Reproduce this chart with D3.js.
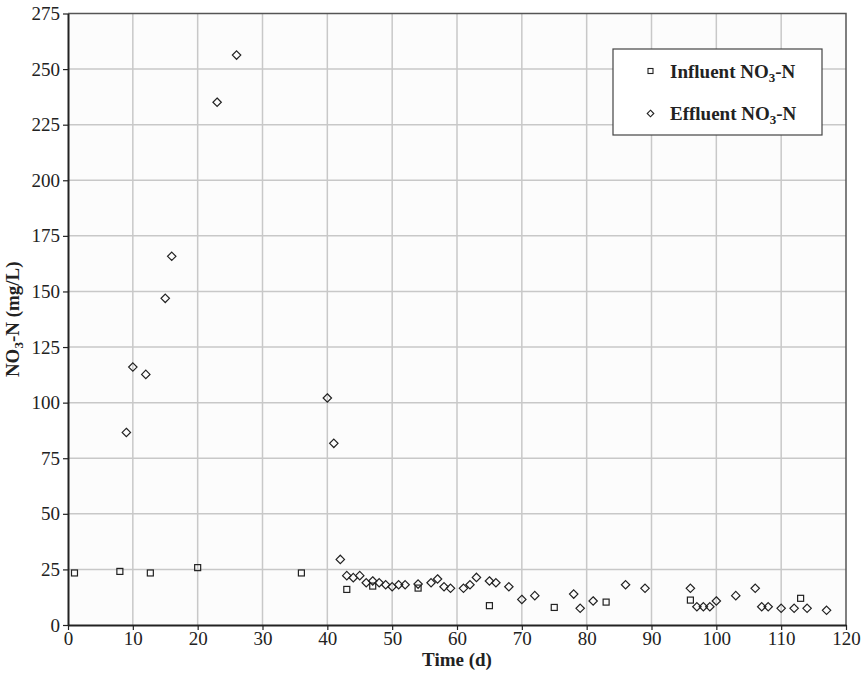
<!DOCTYPE html>
<html>
<head>
<meta charset="utf-8">
<script src="https://cdnjs.cloudflare.com/ajax/libs/d3/7.8.5/d3.min.js"></script>
<style>
  body { margin: 0; background: #fff; }
</style>
</head>
<body>
<svg width="865" height="673"></svg>
<script>
// days and NO3-N values
const influentDay = [1, 8, 12.7, 20, 36, 43, 47, 54, 65, 75, 83, 96, 113];
const influentNO3 = [23.4, 24.1, 23.4, 25.8, 23.4, 16.0, 17.5, 16.6, 8.7, 7.9, 10.3, 11.2, 12.0];

const effluentDay = [9, 10, 12, 15, 16, 23, 26, 40, 41, 42, 43, 44, 45, 46, 47, 48, 49, 50, 51, 52,
  54, 56, 57, 58, 59, 61, 62, 63, 65, 66, 68, 70, 72, 78, 79, 81, 86, 89, 96, 97, 98, 99, 100,
  103, 106, 107, 108, 110, 112, 114, 117];
const effluentNO3 = [86.6, 116.0, 112.7, 146.9, 165.8, 235.1, 256.3, 102.1, 81.7, 29.5, 22.2, 21.3, 22.2, 19.0, 19.8, 19.0, 18.1, 17.2, 18.1, 18.1,
  18.4, 19.0, 20.7, 17.2, 16.5, 16.5, 18.1, 21.4, 19.8, 19.0, 17.2, 11.5, 13.2, 13.9, 7.5, 10.8, 18.1, 16.5, 16.5, 8.2, 8.2, 8.2, 10.8,
  13.2, 16.5, 8.2, 8.2, 7.5, 7.5, 7.5, 6.6];

const xTicks = d3.range(0, 121, 10);
const yTicks = d3.range(0, 276, 25);

const font = "Liberation Serif";
const ink = "#222";
const fs = 19, subFs = 13;

const svg = d3.select("svg"),
    margin = {top: 13.5, right: 19, bottom: 48, left: 68},
    width = +svg.attr("width") - margin.left - margin.right,
    height = +svg.attr("height") - margin.top - margin.bottom,
    g = svg.append("g").attr("transform", "translate(" + margin.left + "," + margin.top + ")");

const x = d3.scaleLinear().domain([0, 120]).range([0, width]);
const y = d3.scaleLinear().domain([0, 275]).range([height, 0]);

g.append("rect")
    .attr("width", width).attr("height", height)
    .attr("fill", "#fcfcfc");

// grid
g.append("g").selectAll("line").data(xTicks.slice(1, -1)).join("line")
    .attr("x1", d => x(d)).attr("x2", d => x(d))
    .attr("y1", 0).attr("y2", height)
    .attr("stroke", "#c8c8c8").attr("stroke-width", 1.5);
g.append("g").selectAll("line").data(yTicks.slice(1, -1)).join("line")
    .attr("y1", d => y(d)).attr("y2", d => y(d))
    .attr("x1", 0).attr("x2", width)
    .attr("stroke", "#c8c8c8").attr("stroke-width", 1.5);

// top / right border
g.append("path")
    .attr("d", "M0,0H" + width + "V" + height)
    .attr("fill", "none").attr("stroke", "#555").attr("stroke-width", 1.5);

const xAxis = g.append("g")
    .attr("transform", "translate(0," + height + ")")
    .call(d3.axisBottom(x).tickValues(xTicks).tickSize(5).tickPadding(2).tickSizeOuter(0));
const yAxis = g.append("g")
    .call(d3.axisLeft(y).tickValues(yTicks).tickSize(5).tickPadding(3).tickSizeOuter(0));

[xAxis, yAxis].forEach(a => {
  a.attr("font-family", font).attr("font-size", fs);
  a.select(".domain").attr("stroke", ink).attr("stroke-width", 2);
  a.selectAll(".tick line").attr("stroke", ink).attr("stroke-width", 1.2);
  a.selectAll(".tick text")
      .attr("font-family", font)
      .attr("font-size", fs).attr("fill", ink);
});

// axis titles
svg.append("text")
    .attr("x", margin.left + width / 2).attr("y", 666)
    .attr("text-anchor", "middle")
    .attr("font-family", font).attr("fill", ink)
    .attr("font-size", fs).attr("font-weight", "bold")
    .text("Time (d)");

const yt = svg.append("text")
    .attr("transform", "translate(19," + (margin.top + height / 2) + ") rotate(-90)")
    .attr("text-anchor", "middle")
    .attr("font-family", font).attr("fill", ink)
    .attr("font-size", fs).attr("font-weight", "bold");
yt.append("tspan").text("NO");
yt.append("tspan").attr("font-size", subFs).attr("dy", 4).text("3");
yt.append("tspan").attr("dy", -4).text("-N (mg/L)");

// markers
const sq = 6, dm = 4.2;
g.append("g").selectAll("rect").data(influentDay).join("rect")
    .attr("x", (d, i) => x(d) - sq / 2)
    .attr("y", (d, i) => y(influentNO3[i]) - sq / 2)
    .attr("width", sq).attr("height", sq)
    .attr("fill", "none").attr("stroke", ink).attr("stroke-width", 1.2);

const diamond = (cx, cy, r) => "M" + cx + "," + (cy - r) + "L" + (cx + r) + "," + cy +
    "L" + cx + "," + (cy + r) + "L" + (cx - r) + "," + cy + "Z";

g.append("g").selectAll("path").data(effluentDay).join("path")
    .attr("d", (d, i) => diamond(x(d), y(effluentNO3[i]), dm))
    .attr("fill", "none").attr("stroke", ink).attr("stroke-width", 1.2);

// legend
const lg = svg.append("g").attr("transform", "translate(613,49)");
lg.append("rect")
    .attr("width", 209).attr("height", 86)
    .attr("fill", "#fff").attr("stroke", "#444").attr("stroke-width", 1.2);
lg.append("rect")
    .attr("x", 35).attr("y", 19.5).attr("width", 5).attr("height", 5)
    .attr("fill", "none").attr("stroke", ink).attr("stroke-width", 1.1);
lg.append("path")
    .attr("d", diamond(37.5, 64.5, 3.3))
    .attr("fill", "none").attr("stroke", ink).attr("stroke-width", 1.1);

const legendItem = (ty, label) => {
  const t = lg.append("text").attr("x", 57).attr("y", ty)
      .attr("font-family", font).attr("fill", ink)
      .attr("font-size", fs).attr("font-weight", "bold");
  t.append("tspan").text(label + " NO");
  t.append("tspan").attr("font-size", subFs).attr("dy", 4).text("3");
  t.append("tspan").attr("dy", -4).text("-N");
};
legendItem(29, "Influent");
legendItem(71, "Effluent");
</script>
</body>
</html>
